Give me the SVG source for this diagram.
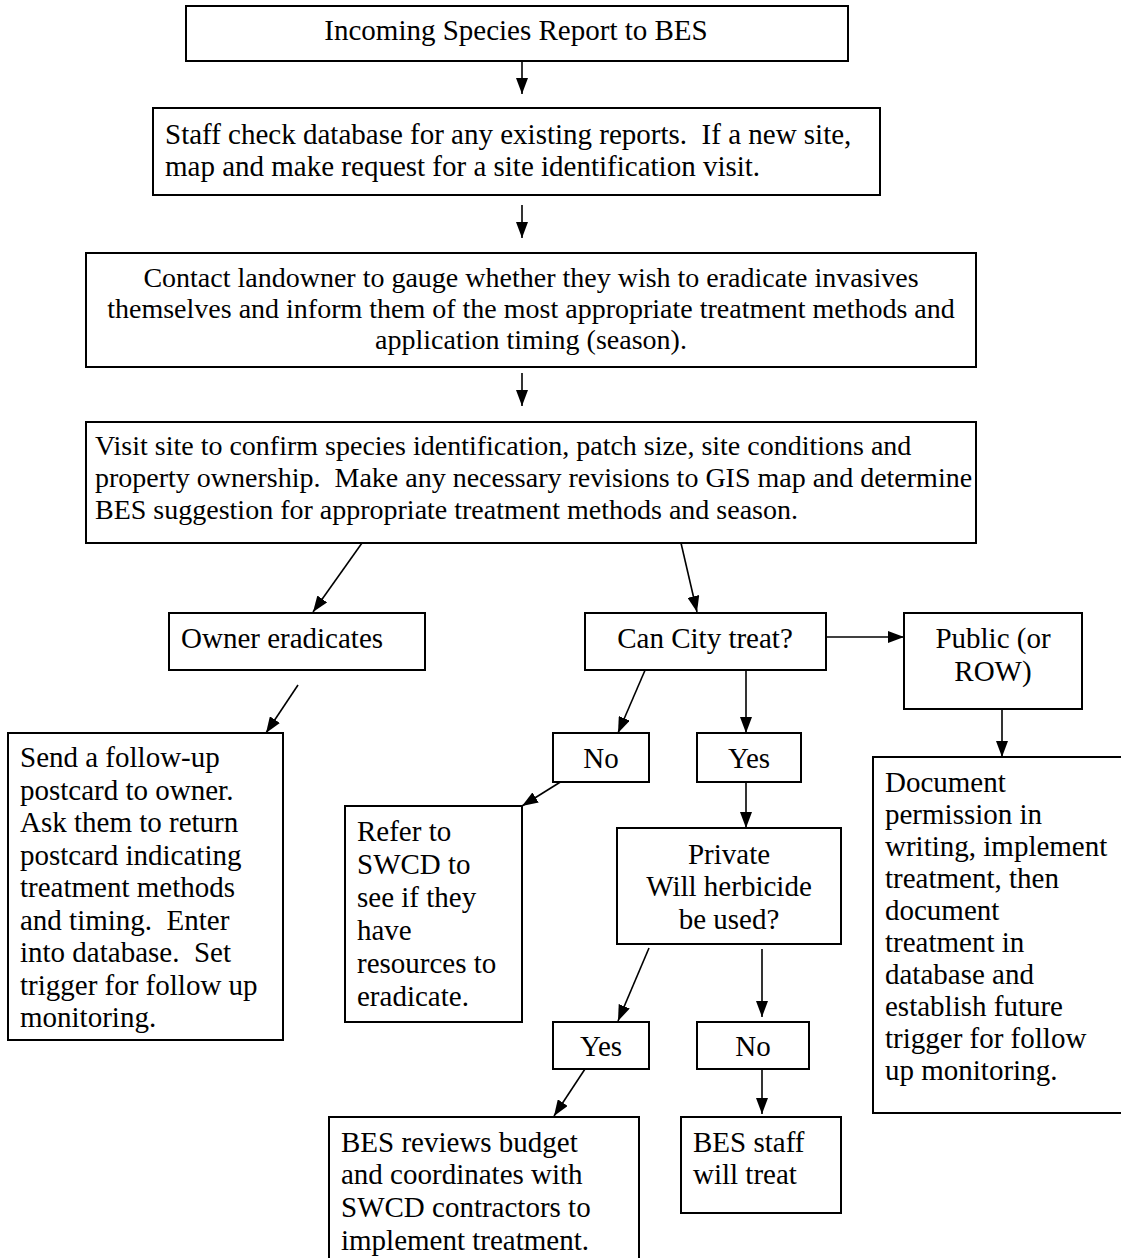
<svg xmlns="http://www.w3.org/2000/svg" width="1121" height="1258" viewBox="0 0 1121 1258">
<style>
.b{fill:#fff;stroke:#000;stroke-width:2}
.t{font-family:"Liberation Serif","Times New Roman",serif;font-size:29px;fill:#000;white-space:pre}
.s{font-size:28px}
.c{text-anchor:middle}
.e{fill:none;stroke:#000;stroke-width:1.6;marker-end:url(#ah)}
</style>
<defs>
<marker id="ah" viewBox="0 0 16 12" refX="16" refY="6" markerWidth="16" markerHeight="12" markerUnits="userSpaceOnUse" orient="auto">
<path d="M0,0 L16,6 L0,12 z" fill="#000"/>
</marker>
</defs>
<rect width="1121" height="1258" fill="#fff"/>
<g id="connectors">
<line class="e" x1="522" y1="61" x2="522" y2="94"/>
<line class="e" x1="522" y1="205" x2="522" y2="238"/>
<line class="e" x1="522" y1="373" x2="522" y2="406"/>
<line class="e" x1="362" y1="543" x2="313" y2="612"/>
<line class="e" x1="681" y1="543" x2="697" y2="612"/>
<line class="e" x1="826" y1="637" x2="904" y2="637"/>
<line class="e" x1="1002" y1="709" x2="1002" y2="757"/>
<line class="e" x1="298" y1="685" x2="266" y2="733"/>
<line class="e" x1="649" y1="661" x2="618" y2="733"/>
<line class="e" x1="746" y1="670" x2="746" y2="733"/>
<line class="e" x1="562" y1="781" x2="522" y2="806"/>
<line class="e" x1="746" y1="782" x2="746" y2="828"/>
<line class="e" x1="649" y1="948" x2="618" y2="1021"/>
<line class="e" x1="762" y1="949" x2="762" y2="1017"/>
<line class="e" x1="585" y1="1069" x2="554" y2="1116"/>
<line class="e" x1="762" y1="1069" x2="762" y2="1114"/>
</g>
<g id="n1"><rect class="b" x="186" y="6" width="662" height="55"/><text class="t c" x="516" y="40">Incoming Species Report to BES</text></g>
<g id="n2"><rect class="b" x="153" y="108" width="727" height="87"/><text class="t" x="165" y="144">Staff check database for any existing reports.  If a new site,</text><text class="t" x="165" y="176">map and make request for a site identification visit.</text></g>
<g id="n3"><rect class="b" x="86" y="253" width="890" height="114"/><text class="t s c" x="531" y="287">Contact landowner to gauge whether they wish to eradicate invasives</text><text class="t s c" x="531" y="318">themselves and inform them of the most appropriate treatment methods and</text><text class="t s c" x="531" y="349">application timing (season).</text></g>
<g id="n4"><rect class="b" x="86" y="422" width="890" height="121"/><text class="t s" x="95" y="455">Visit site to confirm species identification, patch size, site conditions and</text><text class="t s" x="95" y="487">property ownership.  Make any necessary revisions to GIS map and determine</text><text class="t s" x="95" y="519">BES suggestion for appropriate treatment methods and season.</text></g>
<g id="n5"><rect class="b" x="169" y="613" width="256" height="57"/><text class="t" x="181" y="648">Owner eradicates</text></g>
<g id="n6"><rect class="b" x="585" y="613" width="241" height="57"/><text class="t c" x="705" y="648">Can City treat?</text></g>
<g id="n7"><rect class="b" x="904" y="613" width="178" height="96"/><text class="t c" x="993" y="648">Public (or</text><text class="t c" x="993" y="681">ROW)</text></g>
<g id="n8"><rect class="b" x="8" y="733" width="275" height="307"/><text class="t" x="20" y="767">Send a follow-up</text><text class="t" x="20" y="799.5">postcard to owner.</text><text class="t" x="20" y="832">Ask them to return</text><text class="t" x="20" y="864.5">postcard indicating</text><text class="t" x="20" y="897">treatment methods</text><text class="t" x="20" y="929.5">and timing.  Enter</text><text class="t" x="20" y="962">into database.  Set</text><text class="t" x="20" y="994.5">trigger for follow up</text><text class="t" x="20" y="1027">monitoring.</text></g>
<g id="n9"><rect class="b" x="553" y="733" width="96" height="49"/><text class="t c" x="601" y="768">No</text></g>
<g id="n10"><rect class="b" x="697" y="733" width="104" height="49"/><text class="t c" x="749" y="768">Yes</text></g>
<g id="n11"><rect class="b" x="873" y="757" width="260" height="356"/><text class="t" x="885" y="792">Document</text><text class="t" x="885" y="824">permission in</text><text class="t" x="885" y="856">writing, implement</text><text class="t" x="885" y="888">treatment, then</text><text class="t" x="885" y="920">document</text><text class="t" x="885" y="952">treatment in</text><text class="t" x="885" y="984">database and</text><text class="t" x="885" y="1016">establish future</text><text class="t" x="885" y="1048">trigger for follow</text><text class="t" x="885" y="1080">up monitoring.</text></g>
<g id="n12"><rect class="b" x="345" y="806" width="177" height="216"/><text class="t" x="357" y="841">Refer to</text><text class="t" x="357" y="874">SWCD to</text><text class="t" x="357" y="907">see if they</text><text class="t" x="357" y="940">have</text><text class="t" x="357" y="973">resources to</text><text class="t" x="357" y="1006">eradicate.</text></g>
<g id="n13"><rect class="b" x="617" y="828" width="224" height="116"/><text class="t c" x="729" y="864">Private</text><text class="t c" x="729" y="896">Will herbicide</text><text class="t c" x="729" y="929">be used?</text></g>
<g id="n14"><rect class="b" x="553" y="1022" width="96" height="47"/><text class="t c" x="601" y="1056">Yes</text></g>
<g id="n15"><rect class="b" x="697" y="1022" width="112" height="47"/><text class="t c" x="753" y="1056">No</text></g>
<g id="n16"><rect class="b" x="329" y="1117" width="310" height="160"/><text class="t" x="341" y="1152">BES reviews budget</text><text class="t" x="341" y="1184">and coordinates with</text><text class="t" x="341" y="1217">SWCD contractors to</text><text class="t" x="341" y="1250">implement treatment.</text></g>
<g id="n17"><rect class="b" x="681" y="1117" width="160" height="96"/><text class="t" x="693" y="1152">BES staff</text><text class="t" x="693" y="1184">will treat</text></g>
</svg>
